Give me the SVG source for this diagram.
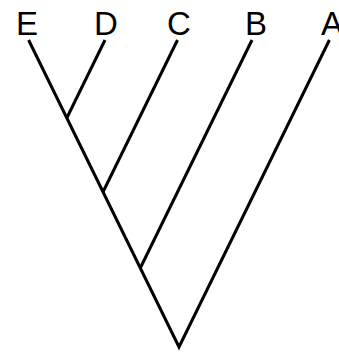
<svg xmlns="http://www.w3.org/2000/svg" width="339" height="352" viewBox="0 0 339 352">
<style>
.l{stroke:#000;stroke-width:3;fill:none;stroke-linecap:butt}
.t{font-family:"Liberation Sans",Arial,sans-serif;font-size:33px;fill:#000;text-anchor:middle}
</style>
<rect width="339" height="352" fill="#fff"/>
<g id="connectors">
<polyline class="l" points="28.6,40 179,347 329.4,40"/>
<line class="l" x1="140.3" y1="268" x2="252" y2="40"/>
<line class="l" x1="103" y1="192" x2="177.5" y2="40"/>
<line class="l" x1="66.8" y1="118" x2="105" y2="40"/>
</g>
<g id="E"><text class="t" x="27" y="35">E</text></g>
<g id="D"><text class="t" x="106" y="35">D</text></g>
<g id="C"><text class="t" x="179" y="35">C</text></g>
<g id="B"><text class="t" x="256" y="35">B</text></g>
<g id="A"><text class="t" x="332" y="35">A</text></g>
</svg>
